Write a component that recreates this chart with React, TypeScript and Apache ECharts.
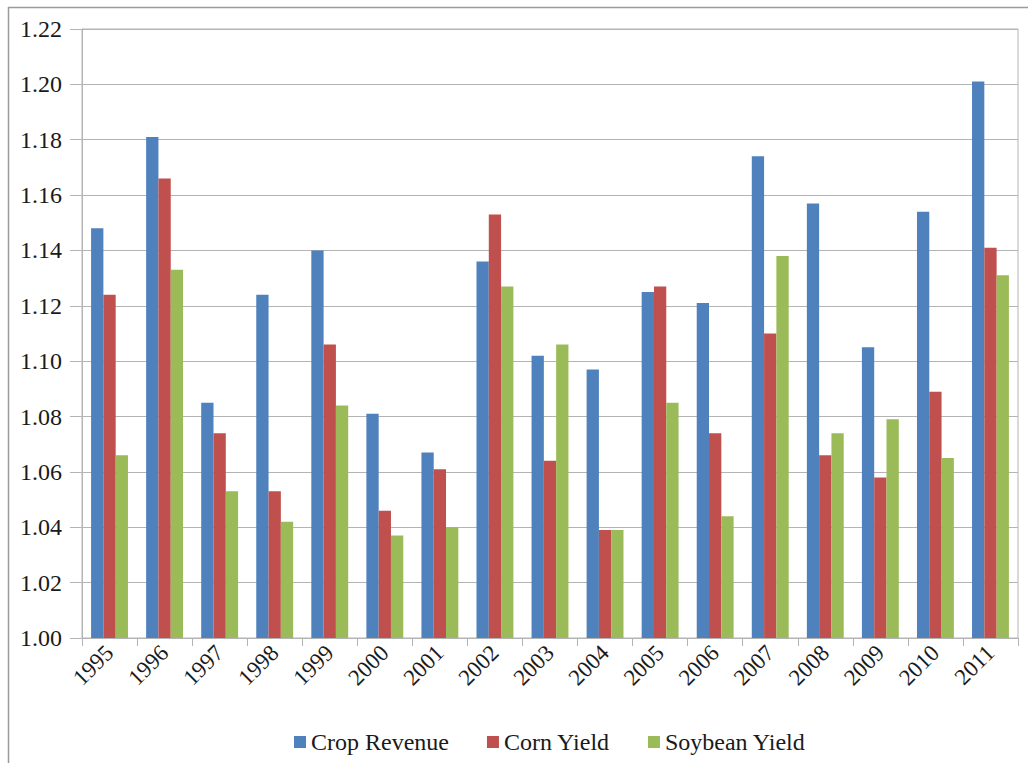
import React, { useEffect, useRef } from "react";
import * as echarts from "echarts";

const years = ["1995","1996","1997","1998","1999","2000","2001","2002","2003","2004","2005","2006","2007","2008","2009","2010","2011"];
const cropRevenue = [1.148,1.181,1.085,1.124,1.140,1.081,1.067,1.136,1.102,1.097,1.125,1.121,1.174,1.157,1.105,1.154,1.201];
const cornYield = [1.124,1.166,1.074,1.053,1.106,1.046,1.061,1.153,1.064,1.039,1.127,1.074,1.110,1.066,1.058,1.089,1.141];
const soybeanYield = [1.066,1.133,1.053,1.042,1.084,1.037,1.040,1.127,1.106,1.039,1.085,1.044,1.138,1.074,1.079,1.065,1.131];

const FONT = "serif";
const TEXT = "#1a1a1a";
const GRID = "#b4b4b4";

export default function App() {
  const ref = useRef<HTMLDivElement>(null);
  useEffect(() => {
    if (!ref.current) return;
    const chart = echarts.init(ref.current, null, { renderer: "svg" });
    const mk = (name: string, data: number[], color: string) => ({
      name, type: "bar", data, barGap: "0%", barCategoryGap: "33%",
      itemStyle: { color },
    });
    chart.setOption({
      animation: false,
      backgroundColor: "#ffffff",
      textStyle: { fontFamily: FONT },
      grid: { left: 82, right: 10, top: 29, bottom: 125, show: true, borderColor: GRID, borderWidth: 1 },
      legend: {
        top: 725, left: 289,
        itemWidth: 12, itemHeight: 12, itemGap: 38,
        icon: "rect",
        textStyle: { fontFamily: FONT, fontSize: 24, color: TEXT },
        data: ["Crop Revenue", "Corn Yield", "Soybean Yield"],
      },
      xAxis: {
        type: "category", data: years,
        axisLine: { lineStyle: { color: GRID } },
        axisTick: { show: true, length: 8, lineStyle: { color: GRID } },
        axisLabel: { rotate: 45, margin: 11, fontFamily: FONT, fontSize: 23, color: TEXT },
      },
      yAxis: {
        type: "value", min: 1.0, max: 1.22, interval: 0.02,
        axisLine: { show: true, lineStyle: { color: GRID } },
        axisTick: { show: true, length: 12, lineStyle: { color: GRID } },
        axisLabel: { margin: 20, fontFamily: FONT, fontSize: 24, color: TEXT, formatter: (v: number) => v.toFixed(2) },
        splitLine: { lineStyle: { color: GRID } },
      },
      graphic: [
        { type: "line", shape: { x1: 8, y1: 7.5, x2: 1028, y2: 7.5 }, style: { stroke: "#9a9a9a", lineWidth: 1.5 } },
        { type: "line", shape: { x1: 8.5, y1: 7, x2: 8.5, y2: 763 }, style: { stroke: "#9a9a9a", lineWidth: 1.5 } },
      ],
      series: [
        mk("Crop Revenue", cropRevenue, "#4F81BD"),
        mk("Corn Yield", cornYield, "#C0504D"),
        mk("Soybean Yield", soybeanYield, "#9BBB59"),
      ],
    });
    return () => chart.dispose();
  }, []);
  return <div ref={ref} style={{ position: "fixed", left: 0, top: 0, width: 1028, height: 763 }} />;
}
